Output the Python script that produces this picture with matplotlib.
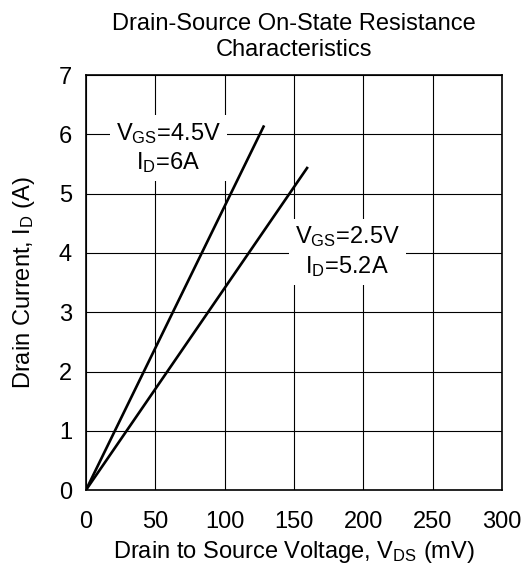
import matplotlib
matplotlib.use("Agg")
import matplotlib.pyplot as plt
import numpy as np

plt.rcParams['font.family'] = ['Liberation Sans', 'DejaVu Sans']
plt.rcParams['mathtext.fontset'] = 'custom'
plt.rcParams['mathtext.rm'] = 'Liberation Sans'
plt.rcParams['mathtext.it'] = 'Liberation Sans:italic'
plt.rcParams['mathtext.bf'] = 'Liberation Sans:bold'

# Data
vds_45 = [0, 128.5]      # mV
id_45 = [0, 6.15]        # A
vds_25 = [0, 160.0]
id_25 = [0, 5.45]

x_ticks = [0, 50, 100, 150, 200, 250, 300]
y_ticks = [0, 1, 2, 3, 4, 5, 6, 7]

title = "Drain-Source On-State Resistance\nCharacteristics"
xlabel = r"Drain to Source Voltage, V$_{\mathrm{DS}}$ (mV)"
ylabel = r"Drain Current, I$_{\mathrm{D}}$ (A)"
label_45 = "V$_{\\mathrm{GS}}$=4.5V\nI$_{\\mathrm{D}}$=6A"
label_25 = "V$_{\\mathrm{GS}}$=2.5V\nI$_{\\mathrm{D}}$=5.2A"

fs = 17
fig = plt.figure(figsize=(5.27, 5.64), dpi=100)
ax = fig.add_axes([0.163, 0.131, 0.7895, 0.736])

ax.plot(vds_45, id_45, color='black', lw=1.9, solid_capstyle='butt', zorder=4)
ax.plot(vds_25, id_25, color='black', lw=1.9, solid_capstyle='butt', zorder=4)

ax.set_xlim(0, 300)
ax.set_ylim(0, 7)
ax.set_xticks(x_ticks)
ax.set_yticks(y_ticks)
ax.grid(True, color='black', lw=0.8)
ax.set_axisbelow(True)
ax.tick_params(axis='x', length=0, labelsize=fs, pad=15)
ax.tick_params(axis='y', length=0, labelsize=fs, pad=10)
for s in ax.spines.values():
    s.set_linewidth(1.2)

ax.set_title(title, fontsize=fs, pad=13.5, linespacing=1.25)
ax.set_xlabel(xlabel, fontsize=fs, labelpad=4)
ax.set_ylabel(ylabel, fontsize=fs, labelpad=16)

bb = dict(boxstyle='square,pad=0.25', fc='white', ec='none')
ax.text(59.5, 5.77, label_45, fontsize=fs, ha='center', va='center',
        linespacing=1.25, bbox=bb, zorder=3)
ax.text(188.5, 4.02, label_25, fontsize=fs, ha='center', va='center',
        linespacing=1.25, bbox=bb, zorder=3)

fig.savefig("out.png", dpi=100)
